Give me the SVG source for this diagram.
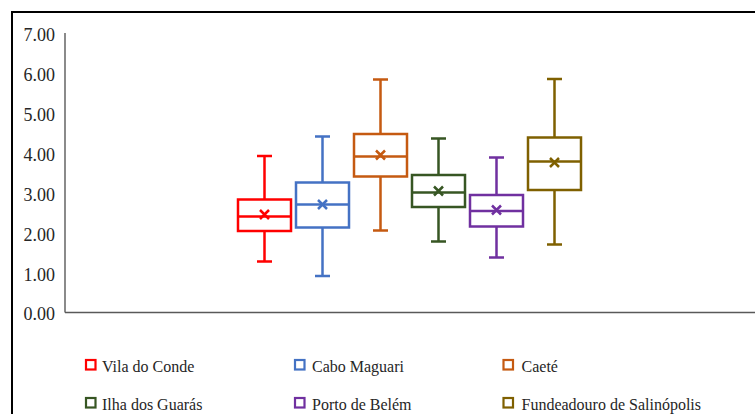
<svg xmlns="http://www.w3.org/2000/svg" width="755" height="414" viewBox="0 0 755 414">
<style>
.lbl{font-family:"Liberation Serif","Times New Roman",serif;font-size:18px;fill:#262626;text-anchor:end}
.leg{font-family:"Liberation Serif","Times New Roman",serif;font-size:16px;fill:#262626}
.bx{fill:none;stroke-width:2.5}
.axis{stroke:#595959;stroke-width:1.4;fill:none}
</style>
<rect x="0" y="0" width="755" height="414" fill="#fff"/>
<rect x="12" y="12" width="770" height="430" fill="none" stroke="#000" stroke-width="2"/>
<g id="axes">
<line class="axis" x1="65" y1="33" x2="65" y2="312.5"/>
<line class="axis" x1="65" y1="312.5" x2="760" y2="312.5"/>
<text class="lbl" x="55" y="40.5">7.00</text>
<text class="lbl" x="55" y="80.5">6.00</text>
<text class="lbl" x="55" y="120.5">5.00</text>
<text class="lbl" x="55" y="160.5">4.00</text>
<text class="lbl" x="55" y="200.5">3.00</text>
<text class="lbl" x="55" y="240.5">2.00</text>
<text class="lbl" x="55" y="280.5">1.00</text>
<text class="lbl" x="55" y="319.5">0.00</text>
</g>
<g id="connectors"></g>
<g id="vila-do-conde" class="bx" stroke="#FF0000">
<rect x="238" y="199.5" width="53" height="31.5"/>
<line x1="238" y1="216.5" x2="291" y2="216.5"/>
<path d="M264.5 199.5V156M257 156H272M264.5 231V261.5M257 261.5H272"/>
<path d="M260 210L269 219M269 210L260 219"/>
</g>
<g id="cabo-maguari" class="bx" stroke="#4472C4">
<rect x="296" y="182.5" width="53" height="45"/>
<line x1="296" y1="204.5" x2="349" y2="204.5"/>
<path d="M322.5 182.5V136.5M315 136.5H330M322.5 227.5V276M315 276H330"/>
<path d="M318 200L327 209M327 200L318 209"/>
</g>
<g id="caete" class="bx" stroke="#C55A11">
<rect x="354" y="134" width="53" height="42.5"/>
<line x1="354" y1="156.5" x2="407" y2="156.5"/>
<path d="M380.5 134V79.5M373 79.5H388M380.5 176.5V230.5M373 230.5H388"/>
<path d="M376 150.5L385 159.5M385 150.5L376 159.5"/>
</g>
<g id="ilha-dos-guaras" class="bx" stroke="#375623">
<rect x="412" y="175" width="53" height="32"/>
<line x1="412" y1="192.5" x2="465" y2="192.5"/>
<path d="M438.5 175V138.5M431 138.5H446M438.5 207V241.5M431 241.5H446"/>
<path d="M434 186.5L443 195.5M443 186.5L434 195.5"/>
</g>
<g id="porto-de-belem" class="bx" stroke="#7030A0">
<rect x="470" y="195" width="53" height="31.5"/>
<line x1="470" y1="211" x2="523" y2="211"/>
<path d="M496.5 195V157.5M489 157.5H504M496.5 226.5V257.5M489 257.5H504"/>
<path d="M492 205.5L501 214.5M501 205.5L492 214.5"/>
</g>
<g id="fundeadouro-de-salinopolis" class="bx" stroke="#7F6000">
<rect x="528" y="137.5" width="53" height="52.5"/>
<line x1="528" y1="161.5" x2="581" y2="161.5"/>
<path d="M554.5 137.5V79M547 79H562M554.5 190V244.5M547 244.5H562"/>
<path d="M550 158L559 167M559 158L550 167"/>
</g>
<g id="legend">
<rect x="86" y="360" width="9.5" height="9.5" fill="none" stroke="#FF0000" stroke-width="2.2"/>
<text class="leg" x="102" y="371.5">Vila do Conde</text>
<rect x="295" y="360" width="9.5" height="9.5" fill="none" stroke="#4472C4" stroke-width="2.2"/>
<text class="leg" x="312" y="371.5">Cabo Maguari</text>
<rect x="503.5" y="360" width="9.5" height="9.5" fill="none" stroke="#C55A11" stroke-width="2.2"/>
<text class="leg" x="521.5" y="371.5">Caeté</text>
<rect x="86" y="398" width="9.5" height="9.5" fill="none" stroke="#375623" stroke-width="2.2"/>
<text class="leg" x="102" y="409.5">Ilha dos Guarás</text>
<rect x="295" y="398" width="9.5" height="9.5" fill="none" stroke="#7030A0" stroke-width="2.2"/>
<text class="leg" x="312" y="409.5">Porto de Belém</text>
<rect x="503.5" y="398" width="9.5" height="9.5" fill="none" stroke="#7F6000" stroke-width="2.2"/>
<text class="leg" x="521.5" y="409.5">Fundeadouro de Salinópolis</text>
</g>
</svg>
